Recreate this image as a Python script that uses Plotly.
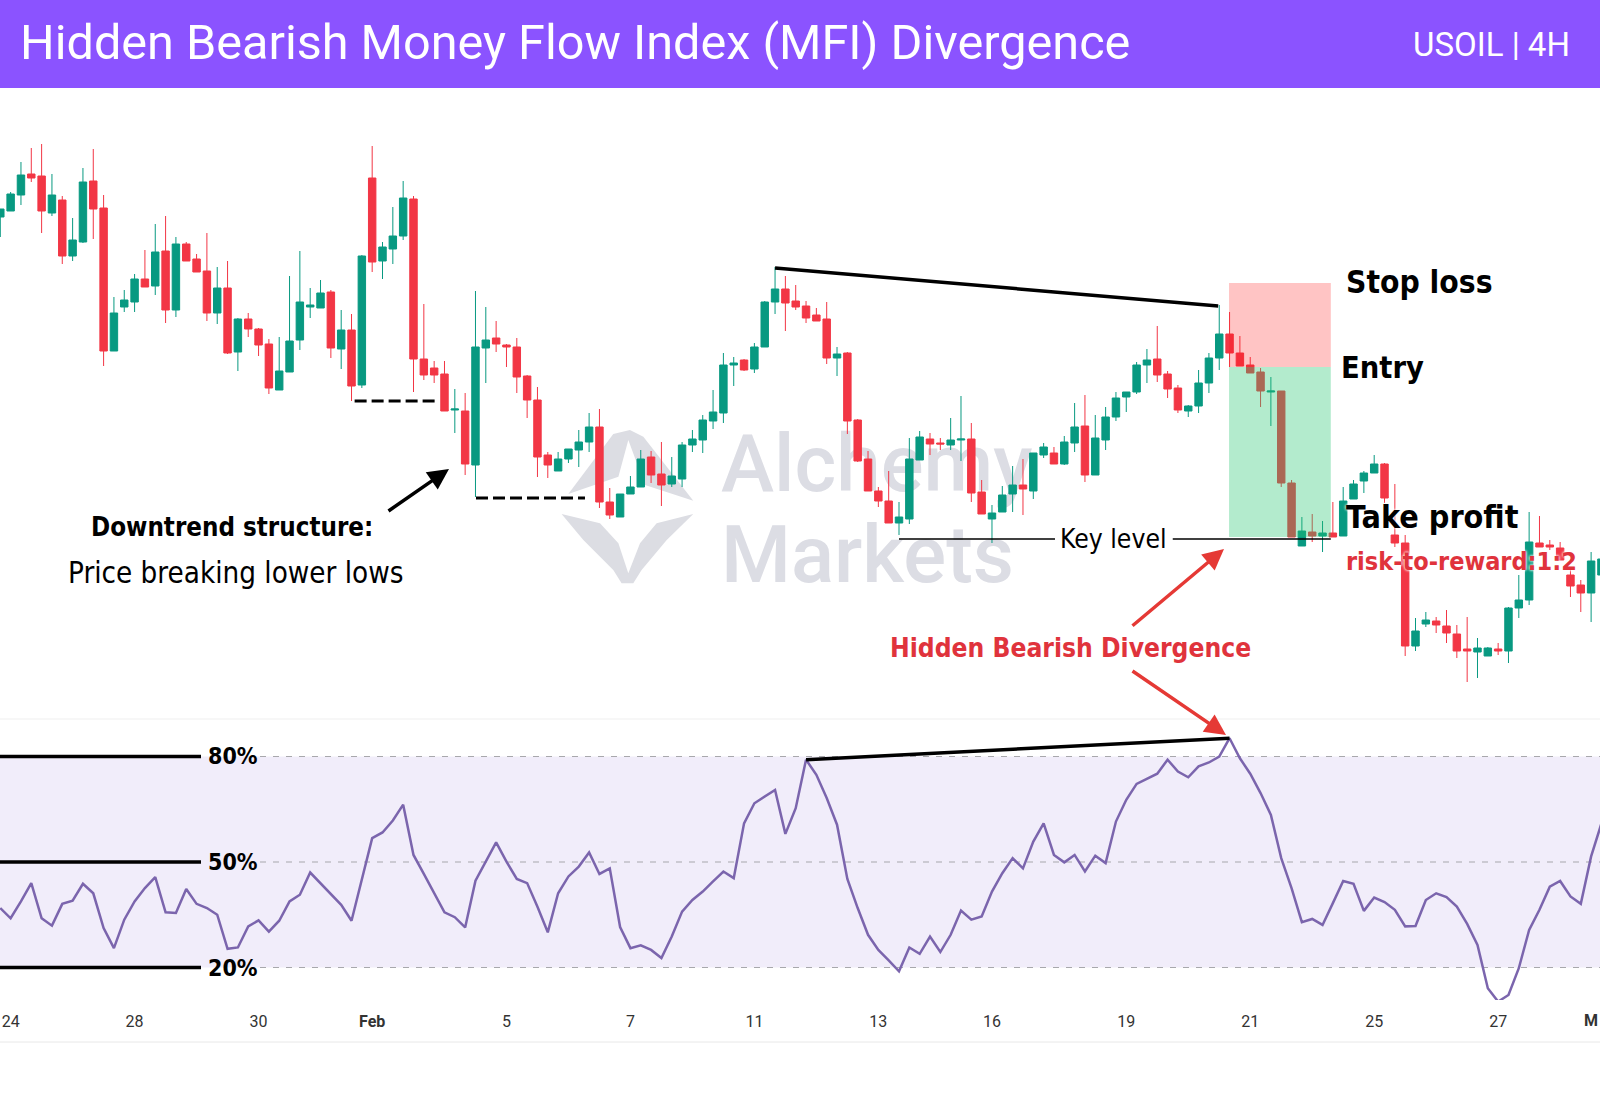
import plotly.graph_objects as go

# USOIL 4H candles
opens = [79.23,79.29,79.45,79.66,79.64,79.27,79.40,78.84,78.98,79.59,79.32,77.89,78.33,78.38,78.61,78.54,78.89,78.30,78.96,78.81,
         78.69,78.27,78.52,77.88,78.21,78.11,77.96,77.50,77.68,78.00,78.33,78.32,78.48,77.91,78.10,77.55,79.62,78.79,78.91,79.04,
         79.41,77.81,77.72,77.66,77.30,77.29,76.75,77.92,78.02,77.95,77.93,77.64,77.40,76.85,76.69,76.81,76.90,76.98,77.13,76.38,
         76.23,76.46,76.53,76.83,76.66,76.56,76.61,76.95,77.00,77.19,77.27,77.75,77.80,77.71,77.93,78.38,78.51,78.39,78.34,78.25,
         78.21,77.82,77.87,77.20,76.81,76.49,76.39,76.17,76.21,76.80,77.01,76.97,76.95,77.00,77.01,76.48,76.21,76.28,76.46,76.55,
         76.49,76.85,76.87,76.76,76.97,77.14,76.65,77.00,77.23,77.43,77.48,77.75,77.81,77.66,77.52,77.29,77.34,77.57,77.82,78.06,
         77.87,77.75,77.68,77.48,77.49,76.57,75.94,76.08,76.04,76.07,76.04,76.41,76.59,76.67,76.76,76.05,75.97,74.94,75.16,75.19,
         75.14,75.06,74.91,74.88,74.84,74.91,74.89,75.32,75.40,75.97,75.95,75.92,75.65,75.55,75.47,75.65]
highs = [79.31,79.48,79.78,79.92,79.96,79.66,79.44,79.22,79.72,79.91,79.45,78.43,78.50,78.66,78.90,79.16,79.24,79.03,78.98,78.86,
         79.07,78.73,78.79,78.22,78.27,78.12,78.01,78.03,78.64,78.89,78.52,78.60,78.50,78.30,78.26,78.85,79.94,78.98,79.33,79.59,
         79.44,78.36,77.79,77.79,77.51,77.47,78.49,78.33,78.19,77.96,78.02,77.65,77.53,76.88,76.88,76.91,77.10,77.27,77.31,76.52,
         76.46,76.64,76.90,76.89,76.98,76.83,76.98,77.10,77.25,77.50,77.87,77.83,77.81,77.97,78.39,78.73,78.64,78.55,78.39,78.32,
         78.38,77.93,77.88,77.21,76.89,76.53,76.69,76.38,77.02,77.09,77.07,77.02,77.22,77.44,77.17,76.60,76.35,76.54,76.74,76.81,
         76.87,76.97,76.93,77.04,77.37,77.45,77.25,77.33,77.48,77.48,77.78,77.91,78.14,77.69,77.55,77.35,77.70,77.87,78.35,78.28,
         78.04,77.83,77.72,77.63,77.49,76.60,76.23,76.26,76.19,76.38,76.53,76.60,76.69,76.85,76.77,76.56,76.05,75.22,75.28,75.23,
         75.30,75.15,75.23,75.02,74.93,74.97,75.33,75.65,76.28,76.24,76.00,75.98,75.70,75.60,75.88,75.85]
lows = [79.03,79.29,79.35,79.58,79.07,79.24,78.76,78.79,78.97,79.01,77.74,77.89,78.28,78.28,78.53,78.45,78.17,78.23,78.79,78.68,
        78.19,78.16,77.86,77.69,78.03,77.84,77.46,77.50,77.68,77.90,78.22,78.32,77.82,77.71,77.39,77.52,78.68,78.61,78.76,79.00,
        77.48,77.60,77.57,77.29,77.07,76.65,76.43,77.57,77.88,77.73,77.47,77.22,76.63,76.62,76.69,76.77,76.73,76.88,76.32,76.21,
        76.23,76.46,76.53,76.57,76.34,76.53,76.53,76.88,76.87,77.11,77.17,77.54,77.69,77.67,77.93,78.26,78.09,78.30,78.17,78.19,
        77.76,77.64,77.06,76.78,76.49,76.33,76.17,76.05,76.16,76.80,76.85,76.90,76.90,76.79,76.38,76.26,75.97,76.28,76.28,76.25,
        76.41,76.82,76.76,76.75,76.88,76.58,76.65,76.90,77.19,77.28,77.46,77.57,77.58,77.42,77.27,77.23,77.27,77.47,77.70,77.73,
        77.74,77.67,77.33,77.14,76.53,76.03,75.94,75.98,75.88,76.03,76.04,76.41,76.47,76.67,76.37,75.93,74.84,74.89,75.13,75.07,
        74.97,74.82,74.58,74.62,74.84,74.85,74.77,75.22,75.35,75.93,75.90,75.80,75.43,75.28,75.18,75.50]
closes = [79.31,79.46,79.65,79.62,79.29,79.45,78.84,79.00,79.58,79.31,77.89,78.27,78.40,78.61,78.53,78.88,78.30,78.96,78.79,78.68,
          78.27,78.52,77.87,78.21,78.11,77.95,77.52,77.69,77.99,78.38,78.35,78.47,77.92,78.10,77.54,78.84,78.78,78.93,79.04,79.42,
          77.81,77.65,77.65,77.29,77.31,76.76,77.93,78.00,77.96,77.93,77.63,77.40,76.83,76.75,76.81,76.91,76.98,77.13,76.38,76.25,
          76.46,76.53,76.81,76.65,76.55,76.64,76.95,77.01,77.20,77.28,77.75,77.77,77.70,77.93,78.38,78.51,78.37,78.33,78.22,78.19,
          77.82,77.86,77.19,76.79,76.49,76.39,76.17,76.23,76.81,77.03,76.96,76.96,77.00,77.01,76.47,76.26,76.27,76.45,76.55,76.51,
          76.87,76.93,76.76,76.98,77.13,76.65,77.02,77.23,77.42,77.48,77.75,77.80,77.65,77.51,77.30,77.34,77.57,77.82,78.06,77.87,
          77.74,77.67,77.49,77.49,76.57,76.03,76.09,76.04,76.07,76.03,76.39,76.56,76.67,76.76,76.42,75.97,74.94,75.09,75.20,75.15,
          75.07,74.89,74.89,74.92,74.92,74.89,75.32,75.40,75.98,75.93,75.93,75.80,75.54,75.47,75.79,75.81]

# money flow index per bar
mfi = [36.9,34.0,38.8,44.0,34.0,31.9,38.1,39.0,43.8,41.1,31.2,25.5,33.6,38.8,42.6,45.7,35.7,35.5,42.3,38.1,
       36.9,35.0,25.3,25.7,31.7,33.4,30.2,33.3,38.8,40.7,47.0,44.0,40.7,37.8,33.3,44.9,56.8,58.4,61.8,66.3,
       52.0,46.6,41.1,35.7,34.3,31.4,44.7,50.1,55.6,50.1,45.2,44.0,37.3,30.0,41.1,45.9,48.7,52.7,46.6,48.2,
       31.5,25.5,26.3,25.0,22.7,28.8,35.9,39.2,41.6,44.5,47.3,45.4,61.0,66.7,68.6,70.5,58.0,65.3,79.1,74.8,
       68.2,60.6,45.2,36.9,29.3,25.0,22.0,18.9,25.7,23.9,28.8,24.4,29.3,36.2,33.6,34.5,41.6,46.8,51.1,48.2,
       55.8,61.0,52.0,49.9,52.0,47.3,51.8,49.7,61.5,67.7,72.2,73.6,75.1,79.1,75.7,74.1,77.2,78.3,80.0,85.2,
       79.5,75.1,69.6,63.4,51.1,42.6,32.9,33.8,32.1,38.3,44.6,43.8,36.1,39.9,38.6,36.4,31.7,31.8,39.2,41.1,
       40.0,37.3,32.4,26.4,14.1,10.3,12.2,19.8,30.7,36.4,43.0,44.6,40.2,38.1,51.6,61.0]

tick_pos = [1, 13, 25, 36, 49, 61, 73, 85, 96, 109, 121, 133, 145]
tick_text = ["24", "28", "30", "<b>Feb</b>", "5", "7", "11", "13", "16", "19", "21", "25", "27"]
mfi_levels = [80, 50, 20]

stop_price = 78.57
entry_price = 77.73
target_price = 76.03
key_price = 76.01

price_trend_x = [75, 117.9]
price_trend_y = [78.72, 78.34]
mfi_trend_x = [78, 119]
mfi_trend_y = [79.1, 85.2]

W, H = 1600, 1095
GREEN = "#089981"
RED = "#f23645"

def px(x):
    return x / W

def py(y):
    return 1 - y / H

def poly(points, x0=550, y0=420):
    # points come from a 3x crop of the logo
    pts = [f"{px(x0 + a / 3):.4f},{py(y0 + b / 3):.4f}" for a, b in points]
    return "M" + " L".join(pts) + " Z"

fig = go.Figure()

fig.add_trace(go.Candlestick(
    x=list(range(len(opens))), open=opens, high=highs, low=lows, close=closes,
    increasing=dict(line=dict(color=GREEN, width=1), fillcolor=GREEN),
    decreasing=dict(line=dict(color=RED, width=1), fillcolor=RED),
    whiskerwidth=0, xaxis="x", yaxis="y", showlegend=False,
))

fig.add_trace(go.Scatter(
    x=list(range(len(mfi))), y=mfi, mode="lines",
    line=dict(color="#7b65ad", width=2.5), xaxis="x2", yaxis="y2", showlegend=False,
))

for tx, ty, axx, axy, w in [(price_trend_x, price_trend_y, "x", "y", 3.5), (mfi_trend_x, mfi_trend_y, "x2", "y2", 3.5)]:
    fig.add_trace(go.Scatter(x=tx, y=ty, mode="lines", line=dict(color="black", width=w),
                             xaxis=axx, yaxis=axy, showlegend=False))

# lower low markers and key level
for xs, price, dash, w in [([34.3, 42.1], 77.39, "12px,5px", 3), ([46.05, 56.6], 76.42, "12px,5px", 3),
                           ([87, 102.1], key_price, "solid", 1.6), ([113.5, 128.8], key_price, "solid", 1.6)]:
    fig.add_trace(go.Scatter(x=xs, y=[price, price], mode="lines", line=dict(color="black", width=w, dash=dash),
                             xaxis="x", yaxis="y", showlegend=False))

shapes = [
    # MFI band
    dict(type="rect", xref="paper", yref="y2", x0=0, x1=1, y0=20, y1=80, fillcolor="#f1edfa",
         line_width=0, layer="below"),
    # pane borders
    dict(type="line", xref="paper", yref="paper", x0=0, x1=1, y0=py(719), y1=py(719), line=dict(color="#efefef", width=1)),
    dict(type="line", xref="paper", yref="paper", x0=0, x1=1, y0=py(1042), y1=py(1042), line=dict(color="#e8e8e8", width=1)),
    # header
    dict(type="rect", xref="paper", yref="paper", x0=0, x1=1, y0=py(88), y1=1, fillcolor="#8b53ff", line_width=0),
    # trade box
    dict(type="rect", xref="x", yref="y", x0=118.95, x1=128.8, y0=entry_price, y1=stop_price,
         fillcolor="rgba(255,19,19,0.25)", line_width=0),
    dict(type="rect", xref="x", yref="y", x0=118.95, x1=128.8, y0=target_price, y1=entry_price,
         fillcolor="rgba(37,198,112,0.35)", line_width=0),
    # watermark logo
    dict(type="path", xref="paper", yref="paper", layer="below", fillcolor="#dcdde3", line_width=0,
         path=poly([(55,222),(190,42),(240,30),(280,50),(430,242),(285,195),(235,60),(205,170)])),
    dict(type="path", xref="paper", yref="paper", layer="below", fillcolor="#dcdde3", line_width=0,
         path=poly([(35,282),(150,310),(205,370),(235,460),(270,370),(320,310),(430,282),(350,360),(275,450),(250,490),(215,490),(190,450),(100,360)])),
]

# watermark words sit under the candles, so they go on shapes rather than annotations
for word, top, bottom in [("Alchemy", 420, 496), ("Markets", 511, 587)]:
    shapes.append(dict(type="rect", xref="paper", yref="paper", x0=px(718), x1=px(1030), y0=py(bottom), y1=py(top),
                       layer="below", line_width=0, fillcolor="rgba(0,0,0,0)",
                       label=dict(text=word, textposition="middle left", padding=0,
                                  font=dict(family="Roboto", size=80, color="#dcdde4", weight=500))))

for level in mfi_levels:
    shapes.append(dict(type="line", xref="paper", yref="y2", x0=px(260), x1=1, y0=level, y1=level,
                       line=dict(color="#a8a8ac", width=1.2, dash="6px,7px"), layer="below"))
    shapes.append(dict(type="line", xref="paper", yref="y2", x0=0, x1=px(201), y0=level, y1=level,
                       line=dict(color="black", width=3.5)))

NARROW = "DejaVu Sans Condensed, Roboto"

def note(text, x, y, size, color="black", bold=True, anchor="left", shadow=None):
    fig.add_annotation(
        xref="paper", yref="paper", x=px(x), y=py(y), text=f"<b>{text}</b>" if bold else text,
        showarrow=False, xanchor=anchor, yanchor="middle",
        font=dict(family=NARROW, size=size, color=color, shadow=shadow), borderpad=0,
    )

def arrow(x0, y0, x1, y1, color, width=3.5):
    fig.add_annotation(
        xref="paper", yref="paper", x=px(x1), y=py(y1), ax=x0 - x1, ay=y0 - y1, axref="pixel", ayref="pixel",
        text="", showarrow=True, arrowhead=2, arrowsize=1.2, arrowwidth=width, arrowcolor=color,
    )

fig.add_annotation(xref="paper", yref="paper", x=px(18), y=py(43), text="Hidden Bearish Money Flow Index (MFI) Divergence",
                   showarrow=False, xanchor="left", yanchor="middle", font=dict(family="Roboto", size=48.6, color="white"))
fig.add_annotation(xref="paper", yref="paper", x=px(1572), y=py(44), text="USOIL | 4H",
                   showarrow=False, xanchor="right", yanchor="middle", font=dict(family="Roboto", size=33, color="white"))
fig.add_annotation(xref="paper", yref="paper", x=1, y=py(1020), text="<b>M</b>", showarrow=False,
                   xanchor="right", yanchor="middle", font=dict(family="Roboto", size=16, color="#333"))

note("Stop loss", 1345, 282, 31.5)
note("Entry", 1340, 367, 30.5)
glow = "0 0 3px white, 0 0 3px white"
note("Take profit", 1345, 517, 32, shadow=glow)
note("risk-to-reward:1:2", 1345, 561, 25, color="#e0333c", shadow=glow)
note("Key level", 1113, 539, 26.3, bold=False, anchor="center")
note("Downtrend structure:", 232, 527, 25.7, anchor="center")
note("Price breaking lower lows", 235, 573, 29.3, bold=False, anchor="center")
note("Hidden Bearish Divergence", 1070, 648, 26.2, color="#e0333c", anchor="center")
for level in mfi_levels:
    fig.add_annotation(xref="paper", yref="y2", x=px(206), y=level, text=f"<b>{level}%</b>", showarrow=False,
                       xanchor="left", yanchor="middle", font=dict(family=NARROW, size=23, color="black"))

arrow(387, 512, 449, 469, "black")
arrow(1131, 627, 1224, 549, "#e53935")
arrow(1131, 670, 1226, 735, "#e53935")

fig.update_layout(
    width=W, height=H, margin=dict(l=0, r=0, t=0, b=0),
    paper_bgcolor="white", plot_bgcolor="rgba(0,0,0,0)", showlegend=False,
    boxgap=0.2, boxgroupgap=0.1,
    shapes=shapes,
    xaxis=dict(range=[-0.029, 154.86], domain=[0, 1], visible=False, rangeslider=dict(visible=False), anchor="y"),
    yaxis=dict(range=[74.21, 80.53], domain=[py(719), py(87)], visible=False, anchor="x"),
    xaxis2=dict(range=[-0.029, 154.86], domain=[0, 1], anchor="y2", showgrid=False, zeroline=False, showline=False,
                tickmode="array", tickvals=tick_pos, ticktext=tick_text, ticks="outside", ticklen=7,
                tickcolor="rgba(0,0,0,0)", tickfont=dict(family="Roboto", size=16, color="#333")),
    yaxis2=dict(range=[10.76, 90.66], domain=[py(1000), py(719)], visible=False, anchor="x2"),
)

fig.write_html("out.html", config=dict(displayModeBar=False), post_script="document.body.style.margin='0';")
